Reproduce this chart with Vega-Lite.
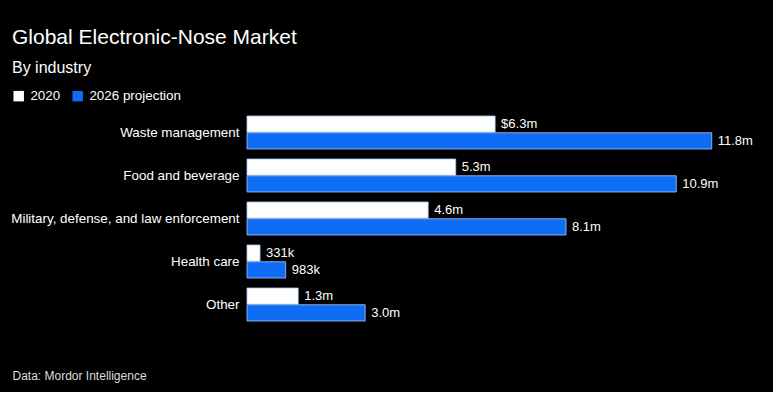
{
  "$schema": "https://vega.github.io/schema/vega-lite/v6.json",
  "autosize": {"type": "none"},
  "width": 512,
  "height": 215,
  "padding": {"left": 247, "top": 111, "right": 14, "bottom": 66},
  "background": "#000000",
  "config": {"view": {"stroke": null}},
  "title": {
    "text": "Global Electronic-Nose Market",
    "subtitle": "By industry",
    "anchor": "start",
    "frame": "group",
    "dx": -235,
    "offset": 13,
    "font": "Liberation Sans",
    "fontSize": 21,
    "fontWeight": "normal",
    "color": "#ffffff",
    "subtitleFont": "Liberation Sans",
    "subtitleFontSize": 16,
    "subtitleColor": "#ffffff",
    "subtitlePadding": 12
  },
  "data": {
    "values": [
      {"industry": "Waste management", "series": "2020", "value": 6.3, "label": "$6.3m"},
      {"industry": "Waste management", "series": "2026 projection", "value": 11.8, "label": "11.8m"},
      {"industry": "Food and beverage", "series": "2020", "value": 5.3, "label": "5.3m"},
      {"industry": "Food and beverage", "series": "2026 projection", "value": 10.9, "label": "10.9m"},
      {"industry": "Military, defense, and law enforcement", "series": "2020", "value": 4.6, "label": "4.6m"},
      {"industry": "Military, defense, and law enforcement", "series": "2026 projection", "value": 8.1, "label": "8.1m"},
      {"industry": "Health care", "series": "2020", "value": 0.331, "label": "331k"},
      {"industry": "Health care", "series": "2026 projection", "value": 0.983, "label": "983k"},
      {"industry": "Other", "series": "2020", "value": 1.3, "label": "1.3m"},
      {"industry": "Other", "series": "2026 projection", "value": 3.0, "label": "3.0m"}
    ]
  },
  "encoding": {
    "y": {
      "field": "industry",
      "type": "nominal",
      "sort": ["Waste management", "Food and beverage", "Military, defense, and law enforcement", "Health care", "Other"],
      "scale": {"paddingInner": 0.233, "paddingOuter": 0.1165},
      "axis": {
        "title": null,
        "domain": false,
        "ticks": false,
        "labelPadding": 8,
        "labelFont": "Liberation Sans",
        "labelFontSize": 13.4,
        "labelColor": "#ffffff",
        "labelLimit": 300
      }
    },
    "yOffset": {
      "field": "series",
      "type": "nominal",
      "sort": ["2020", "2026 projection"],
      "scale": {"paddingInner": 0.03, "paddingOuter": 0}
    },
    "x": {
      "field": "value",
      "type": "quantitative",
      "scale": {"domain": [0, 13], "nice": false},
      "axis": {
        "grid": false,
        "domain": false,
        "ticks": false,
        "labels": false,
        "title": "Data: Mordor Intelligence",
        "titleAnchor": "start",
        "titleX": -235,
        "titleY": 53,
        "titleFont": "Liberation Sans",
        "titleFontSize": 12,
        "titleFontWeight": "normal",
        "titleColor": "#dddddd",
        "titleBaseline": "alphabetic"
      }
    }
  },
  "layer": [
    {
      "mark": {"type": "bar", "strokeWidth": 1, "stroke": "#a9c8f5", "strokeOpacity": 0.8},
      "encoding": {
        "color": {
          "field": "series",
          "type": "nominal",
          "scale": {"domain": ["2020", "2026 projection"], "range": ["#ffffff", "#0f6df5"]},
          "legend": {
            "title": null,
            "orient": "none",
            "direction": "horizontal",
            "legendX": -235,
            "legendY": -22,
            "symbolType": "square",
            "symbolSize": 110,
            "symbolStrokeWidth": 0,
            "labelFont": "Liberation Sans",
            "labelFontSize": 13.4,
            "labelColor": "#ffffff",
            "labelOffset": 5,
            "columnPadding": 10
          }
        }
      }
    },
    {
      "mark": {"type": "text", "align": "left", "baseline": "middle", "dx": 6, "font": "Liberation Sans", "fontSize": 13, "color": "#ffffff"},
      "encoding": {
        "text": {"field": "label", "type": "nominal"}
      }
    }
  ]
}
